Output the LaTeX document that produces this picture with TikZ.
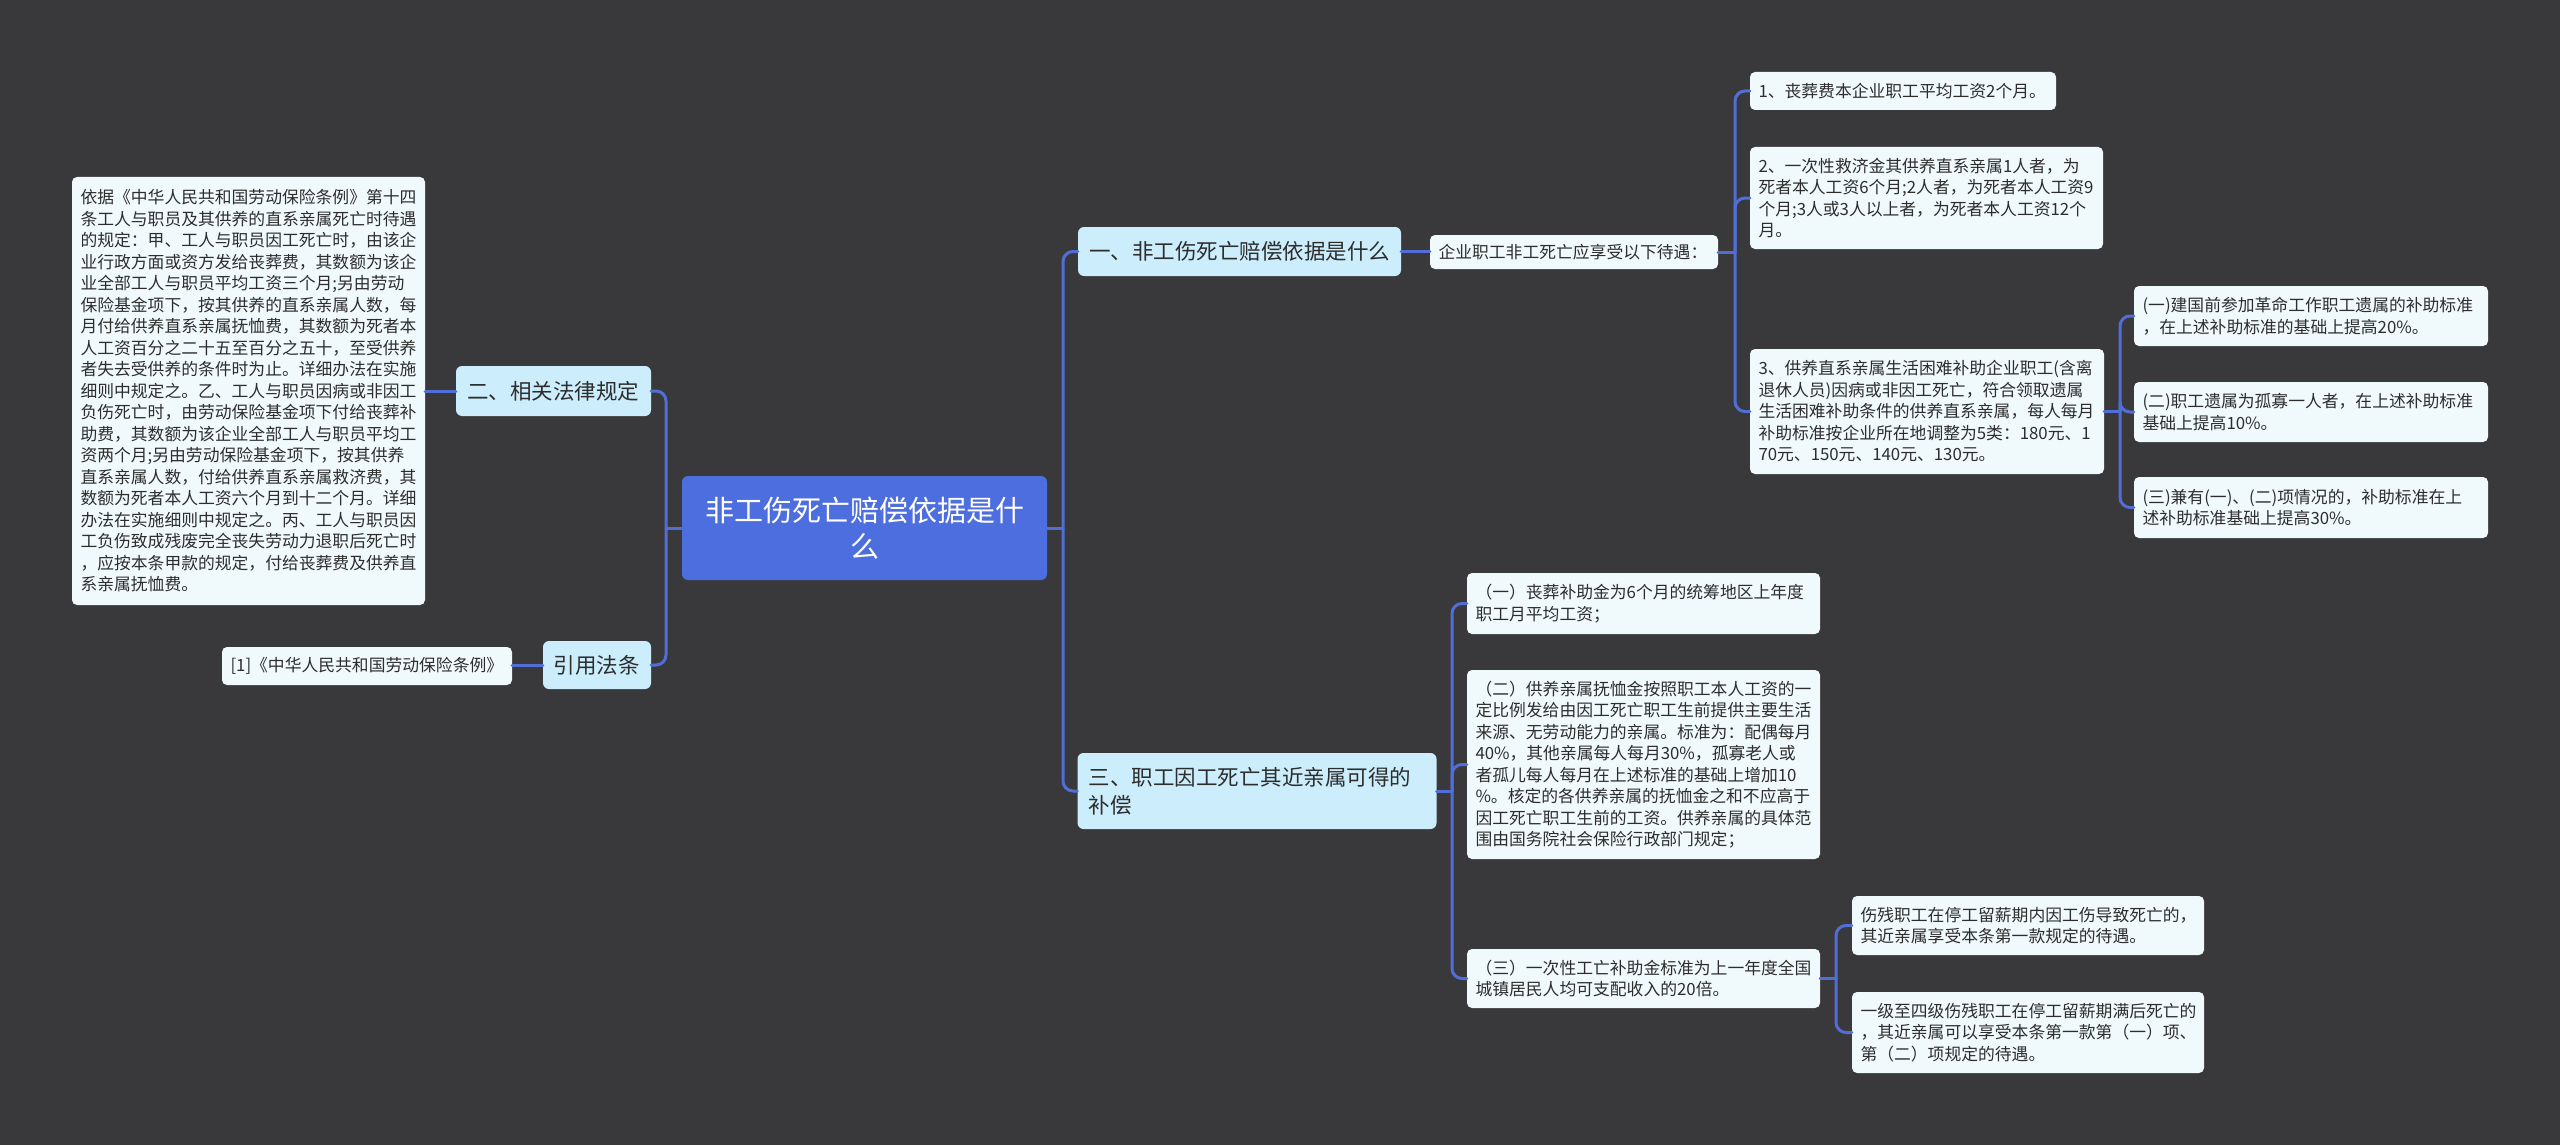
\documentclass[tikz,border=0pt]{standalone}
\usepackage{fontspec}
\setmainfont{Noto Sans CJK SC}
\definecolor{bgc}{RGB}{57,56,58}
\definecolor{linec}{RGB}{80,110,214}
\definecolor{rootc}{RGB}{76,110,222}
\definecolor{lvlc}{RGB}{204,238,252}
\definecolor{leafc}{RGB}{240,250,253}
\definecolor{txt}{RGB}{45,45,45}
\begin{document}
\begin{tikzpicture}[x=1pt,y=-1pt,
  leaf/.style={fill=leafc, rounded corners=5pt, text=txt, font=\fontsize{16.8}{21.5}\selectfont, align=left, inner xsep=8.5pt, inner ysep=0pt},
  lvl/.style={fill=lvlc, rounded corners=6pt, text=txt, font=\fontsize{21.5}{28}\selectfont, align=left, inner xsep=11pt, inner ysep=0pt},
  rootn/.style={fill=rootc, rounded corners=6pt, text=white, font=\fontsize{29}{36}\selectfont, align=center, inner xsep=0pt, inner ysep=0pt},
  conn/.style={draw=linec, line width=3pt, rounded corners=10pt, line cap=round}]
\useasboundingbox (0,0) rectangle (2560,1145);
\fill[bgc] (0,0) rectangle (2560,1145);

% bars
\coordinate (bL) at (666,0);
\coordinate (bR) at (1063,0);
\coordinate (bQ) at (1735,0);
\coordinate (bS) at (2120,0);
\coordinate (bT) at (1452,0);
\coordinate (bU) at (1836,0);

% root
\node[rootn, text width=365pt, minimum height=104pt] (root) at (864.5,528) {非工伤死亡赔偿依据是什\\么};

% left side
\node[lvl, text width=173pt, minimum height=50pt] (n2) at (553.5,391) {二、相关法律规定};
\node[lvl, text width=87pt, inner xsep=10.5pt, minimum height=48pt] (cite) at (597,665) {引用法条};
\node[leaf, text width=336pt, minimum height=428pt] (law) at (248.5,391) {依据《中华人民共和国劳动保险条例》第十四\\条工人与职员及其供养的直系亲属死亡时待遇\\的规定：甲、工人与职员因工死亡时，由该企\\业行政方面或资方发给丧葬费，其数额为该企\\业全部工人与职员平均工资三个月;另由劳动\\保险基金项下，按其供养的直系亲属人数，每\\月付给供养直系亲属抚恤费，其数额为死者本\\人工资百分之二十五至百分之五十，至受供养\\者失去受供养的条件时为止。详细办法在实施\\细则中规定之。乙、工人与职员因病或非因工\\负伤死亡时，由劳动保险基金项下付给丧葬补\\助费，其数额为该企业全部工人与职员平均工\\资两个月;另由劳动保险基金项下，按其供养\\直系亲属人数，付给供养直系亲属救济费，其\\数额为死者本人工资六个月到十二个月。详细\\办法在实施细则中规定之。丙、工人与职员因\\工负伤致成残废完全丧失劳动力退职后死亡时\\，应按本条甲款的规定，付给丧葬费及供养直\\系亲属抚恤费。};
\node[leaf, text width=273pt, minimum height=38pt] (ref) at (367,666) {[1]《中华人民共和国劳动保险条例》};

% right side, branch one
\node[lvl, text width=301pt, minimum height=49pt] (n1) at (1239.5,251.5) {一、非工伤死亡赔偿依据是什么};
\node[leaf, text width=271pt, minimum height=34pt] (qy) at (1574,252) {企业职工非工死亡应享受以下待遇：};
\node[leaf, text width=289pt, minimum height=38pt] (l1) at (1903,91) {1、丧葬费本企业职工平均工资2个月。};
\node[leaf, text width=336pt, minimum height=102pt] (l2) at (1926.5,198) {2、一次性救济金其供养直系亲属1人者，为\\死者本人工资6个月;2人者，为死者本人工资9\\个月;3人或3人以上者，为死者本人工资12个\\月。};
\node[leaf, text width=337pt, minimum height=125pt] (l3) at (1927,411.5) {3、供养直系亲属生活困难补助企业职工(含离\\退休人员)因病或非因工死亡，符合领取遗属\\生活困难补助条件的供养直系亲属，每人每月\\补助标准按企业所在地调整为5类：180元、1\\70元、150元、140元、130元。};
\node[leaf, text width=337pt, minimum height=60pt] (s1) at (2311,316) {(一)建国前参加革命工作职工遗属的补助标准\\，在上述补助标准的基础上提高20\%。};
\node[leaf, text width=337pt, minimum height=60pt] (s2) at (2311,412) {(二)职工遗属为孤寡一人者，在上述补助标准\\基础上提高10\%。};
\node[leaf, text width=337pt, minimum height=61pt] (s3) at (2311,507.5) {(三)兼有(一)、(二)项情况的，补助标准在上\\述补助标准基础上提高30\%。};

% right side, branch three
\node[lvl, text width=337pt, minimum height=76pt] (n3) at (1257,791) {三、职工因工死亡其近亲属可得的\\补偿};
\node[leaf, text width=336pt, minimum height=61pt] (t1) at (1643.5,603.5) {（一）丧葬补助金为6个月的统筹地区上年度\\职工月平均工资；};
\node[leaf, text width=336pt, minimum height=189pt] (t2) at (1643.5,764.5) {（二）供养亲属抚恤金按照职工本人工资的一\\定比例发给由因工死亡职工生前提供主要生活\\来源、无劳动能力的亲属。标准为：配偶每月\\40\%，其他亲属每人每月30\%，孤寡老人或\\者孤儿每人每月在上述标准的基础上增加10\\\%。核定的各供养亲属的抚恤金之和不应高于\\因工死亡职工生前的工资。供养亲属的具体范\\围由国务院社会保险行政部门规定；};
\node[leaf, text width=336pt, minimum height=59pt] (t3) at (1643.5,978.5) {（三）一次性工亡补助金标准为上一年度全国\\城镇居民人均可支配收入的20倍。};
\node[leaf, text width=335pt, minimum height=59pt] (u1) at (2028,925.5) {伤残职工在停工留薪期内因工伤导致死亡的，\\其近亲属享受本条第一款规定的待遇。};
\node[leaf, text width=335pt, minimum height=81pt] (u2) at (2028,1032.5) {一级至四级伤残职工在停工留薪期满后死亡的\\，其近亲属可以享受本条第一款第（一）项、\\第（二）项规定的待遇。};

% connectors, left
\draw[conn] (root.west) -- (bL |- root.west);
\draw[conn] (bL |- root.west) -- (bL |- n2.east) -- (n2.east);
\draw[conn] (bL |- root.west) -- (bL |- cite.east) -- (cite.east);
\draw[conn] (n2.west) -- (law.east |- n2.west);
\draw[conn] (cite.west) -- (ref.east |- cite.west);

% connectors, right
\draw[conn] (root.east) -- (bR |- root.east);
\draw[conn] (bR |- root.east) -- (bR |- n1.west) -- (n1.west);
\draw[conn] (bR |- root.east) -- (bR |- n3.west) -- (n3.west);
\draw[conn] (n1.east) -- (qy.west |- n1.east);
\draw[conn] (qy.east) -- (bQ |- qy.east);
\foreach \c in {l1,l2,l3} \draw[conn] (bQ |- qy.east) -- (bQ |- \c.west) -- (\c.west);
\draw[conn] (l3.east) -- (bS |- l3.east);
\foreach \c in {s1,s2,s3} \draw[conn] (bS |- l3.east) -- (bS |- \c.west) -- (\c.west);
\draw[conn] (n3.east) -- (bT |- n3.east);
\foreach \c in {t1,t2,t3} \draw[conn] (bT |- n3.east) -- (bT |- \c.west) -- (\c.west);
\draw[conn] (t3.east) -- (bU |- t3.east);
\foreach \c in {u1,u2} \draw[conn] (bU |- t3.east) -- (bU |- \c.west) -- (\c.west);
\end{tikzpicture}
\end{document}
